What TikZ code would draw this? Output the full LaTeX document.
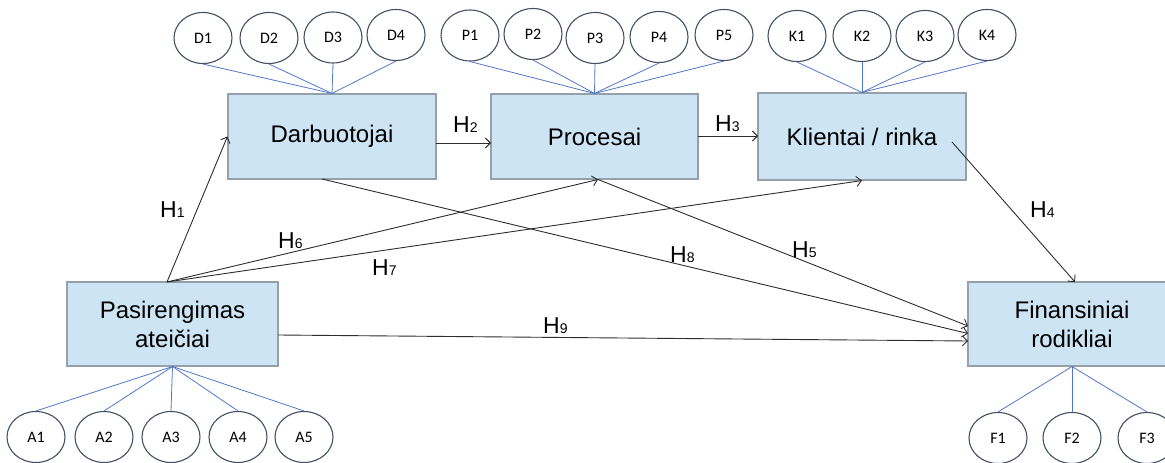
\documentclass[tikz,border=0pt]{standalone}
\usepackage{fontspec}
\setmainfont{Liberation Sans}
\newfontfamily\ellfont{Carlito}
\usetikzlibrary{arrows.meta,shapes.geometric}
\definecolor{boxfill}{RGB}{205,228,245}
\definecolor{boxline}{RGB}{150,160,170}
\definecolor{ellline}{RGB}{70,80,100}
\definecolor{indline}{RGB}{80,120,200}
\definecolor{arrline}{RGB}{45,45,45}
\newcommand\Hlab[1]{{\fontsize{23}{23}\selectfont H}{\fontsize{14}{14}\selectfont #1}}
\tikzset{
  construct/.style={draw=boxline, line width=1.1pt, fill=boxfill, rectangle, inner sep=0pt,
    align=center, font=\fontsize{24}{29}\selectfont},
  indic/.style={draw=ellline, line width=1.1pt, fill=white, ellipse, inner sep=0pt,
    minimum width=58pt, minimum height=51pt, font=\ellfont\fontsize{16}{16}\selectfont},
  load/.style={draw=indline, line width=0.8pt},
  path/.style={draw=arrline, line width=0.9pt, -{Straight Barb[length=5pt,width=10pt]}},
  hlabel/.style={anchor=base west, inner sep=0pt, text=black}
}
\begin{document}
\begin{tikzpicture}[x=1pt,y=-1pt]
\useasboundingbox (0,0) rectangle (1165,463);

% constructs
\node[construct, minimum width=208pt, minimum height=85pt] (da) at (332,136.5) {Darbuotojai};
\node[construct, minimum width=207pt, minimum height=85pt] (pr) at (594.5,136.5) {Procesai};
\node[construct, minimum width=208pt, minimum height=87pt] (kl) at (862,136.5) {Klientai / rinka};
\node[construct, minimum width=211pt, minimum height=84pt] (pa) at (172.5,324) {Pasirengimas\\ateičiai};
\node[construct, minimum width=208pt, minimum height=84pt] (fi) at (1072,324) {Finansiniai\\rodikliai};

% indicators
\node[indic] (d1) at (203,38) {D1};
\node[indic] (d2) at (269,38) {D2};
\node[indic] (d3) at (333,37.5) {D3};
\node[indic] (d4) at (396,35) {D4};
\node[indic] (p1) at (470,35.5) {P1};
\node[indic] (p2) at (533,34) {P2};
\node[indic] (p3) at (595,38) {P3};
\node[indic] (p4) at (659,37) {P4};
\node[indic] (p5) at (724,35) {P5};
\node[indic] (k1) at (797,36) {K1};
\node[indic] (k2) at (862,36) {K2};
\node[indic] (k3) at (925,36) {K3};
\node[indic] (k4) at (987,35) {K4};
\node[indic] (a1) at (36,437) {A1};
\node[indic] (a2) at (104,437) {A2};
\node[indic] (a3) at (171,437) {A3};
\node[indic] (a4) at (238,437) {A4};
\node[indic] (a5) at (304,437) {A5};
\node[indic] (f1) at (998,438) {F1};
\node[indic] (f2) at (1072,438) {F2};
\node[indic] (f3) at (1147,438) {F3};

% loadings
\foreach \e in {d1,d2,d3,d4} \draw[load] (\e.south) -- (da.north);
\foreach \e in {p1,p2,p3,p4,p5} \draw[load] (\e.south) -- (pr.north);
\foreach \e in {k1,k2,k3,k4} \draw[load] (\e.south) -- (kl.north);
\foreach \e in {a1,a2,a3,a4,a5} \draw[load] (pa.south) -- (\e.north);
\foreach \e in {f1,f2,f3} \draw[load] (fi.south) -- (\e.north);

% connector end points
\coordinate (patop) at (167,282);
\coordinate (paright) at (278,335);
\coordinate (dabot) at (322,179);
\coordinate (prbot) at (598,179.5);
\coordinate (klin) at (952,142);
\coordinate (fitop) at (1075,282);
\coordinate (fiA) at (968,326);
\coordinate (fiB) at (968,333.5);
\coordinate (fiC) at (968,341);
\coordinate (daright) at (436,143);
\coordinate (prleft) at (491,143);
\coordinate (prright) at (698,136);
\coordinate (klleft) at (758,136);

% paths
\draw[path] (patop) -- (da.west);
\draw[path] (daright) -- (prleft);
\draw[path] (prright) -- (klleft);
\draw[path] (klin) -- (fitop);
\draw[path] (prbot) -- (fiA);
\draw[path] (patop) -- (prbot);
\draw[path] (patop) -- (kl.south);
\draw[path] (dabot) -- (fiB);
\draw[path] (paright) -- (fiC);

% labels
\node[hlabel] (h1) at (160,217) {\Hlab{1}};
\node[hlabel] (h2) at (453,132) {\Hlab{2}};
\node[hlabel] (h3) at (715,131) {\Hlab{3}};
\node[hlabel] (h4) at (1030,217) {\Hlab{4}};
\node[hlabel] (h5) at (792,257) {\Hlab{5}};
\node[hlabel] (h6) at (278,248) {\Hlab{6}};
\node[hlabel] (h7) at (372,275) {\Hlab{7}};
\node[hlabel] (h8) at (670,262) {\Hlab{8}};
\node[hlabel] (h9) at (543,333) {\Hlab{9}};
\end{tikzpicture}
\end{document}
